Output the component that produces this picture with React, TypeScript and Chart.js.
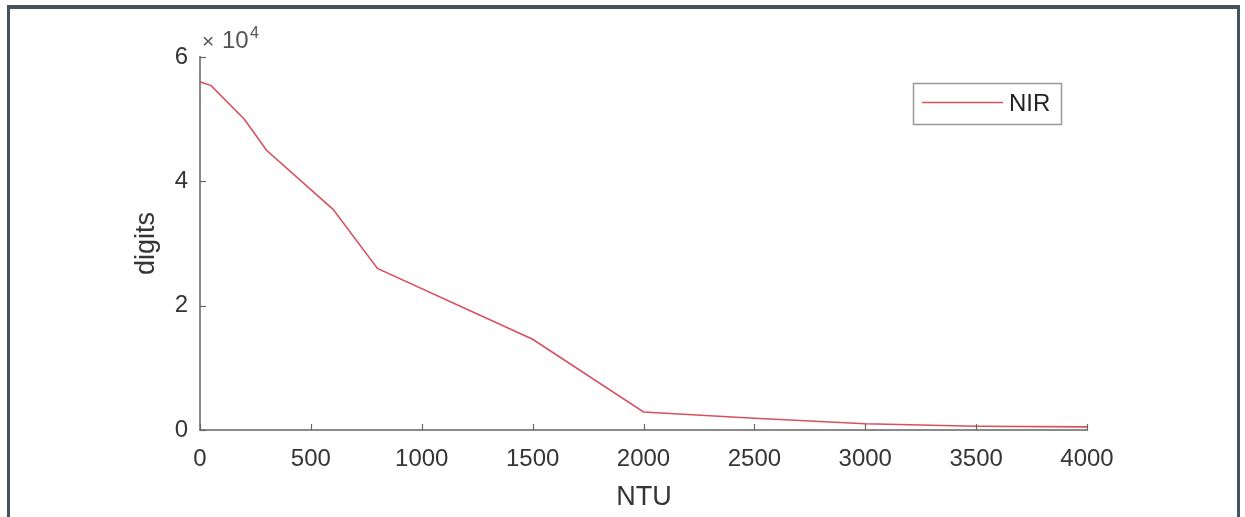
import React, { useEffect, useRef } from "react";
import { Chart, registerables } from "chart.js";

Chart.register(...registerables);

const ntu = [0, 50, 200, 300, 600, 800, 1500, 2000, 2500, 3000, 3500, 4000];
const nir = [56000, 55400, 50000, 45000, 35500, 26000, 14600, 2900, 1900, 1000, 600, 500];
const xTicks = [0, 500, 1000, 1500, 2000, 2500, 3000, 3500, 4000];
const yTicks = [0, 20000, 40000, 60000];
const seriesName = "NIR";
const xTitle = "NTU";
const yTitle = "digits";

const FONT = "'Liberation Sans', Arial, Helvetica, sans-serif";
const TEXT = "#353535";
const AXIS = "#8a8a8a";
const LINE = "#d8505e";

const decor = {
  id: "decor",
  afterDraw(chart: any) {
    const ctx = chart.ctx;
    const xs = chart.scales.x;
    const ys = chart.scales.y;
    const area = chart.chartArea;
    ctx.save();
    // inward tick marks
    ctx.strokeStyle = "#666";
    ctx.lineWidth = 1.2;
    xTicks.forEach((t) => {
      const px = Math.round(xs.getPixelForValue(t)) + 0.5;
      ctx.beginPath();
      ctx.moveTo(px, area.bottom);
      ctx.lineTo(px, area.bottom - 6);
      ctx.stroke();
    });
    yTicks.forEach((t) => {
      const py = Math.round(ys.getPixelForValue(t)) + 0.5;
      ctx.beginPath();
      ctx.moveTo(area.left, py);
      ctx.lineTo(area.left + 6, py);
      ctx.stroke();
    });
    // exponent label
    ctx.fillStyle = "#555";
    ctx.textBaseline = "alphabetic";
    ctx.textAlign = "left";
    ctx.font = `21px ${FONT}`;
    ctx.fillText("\u00d7", area.left + 2, area.top - 9);
    ctx.font = `24px ${FONT}`;
    ctx.fillText("10", area.left + 22, area.top - 9);
    ctx.font = `16px ${FONT}`;
    ctx.fillText("4", area.left + 50, area.top - 19);
    // axis titles
    ctx.fillStyle = TEXT;
    ctx.font = `27px ${FONT}`;
    ctx.textAlign = "center";
    ctx.textBaseline = "middle";
    ctx.fillText(xTitle, (area.left + area.right) / 2 + 0.5, 498);
    ctx.save();
    ctx.translate(147, (area.top + area.bottom) / 2);
    ctx.rotate(-Math.PI / 2);
    ctx.fillText(yTitle, 0, 0);
    ctx.restore();
    // legend
    ctx.fillStyle = "#ffffff";
    ctx.fillRect(913, 83, 148, 41);
    ctx.strokeStyle = "#9a9a9a";
    ctx.lineWidth = 1.5;
    ctx.strokeRect(913.5, 83.5, 148, 41);
    ctx.strokeStyle = LINE;
    ctx.lineWidth = 1.5;
    ctx.beginPath();
    ctx.moveTo(922, 102.5);
    ctx.lineTo(1003, 102.5);
    ctx.stroke();
    ctx.fillStyle = "#222";
    ctx.font = `24px ${FONT}`;
    ctx.textAlign = "left";
    ctx.textBaseline = "middle";
    ctx.fillText(seriesName, 1009, 104);
    ctx.restore();
  },
};

export default function App() {
  const ref = useRef<HTMLCanvasElement | null>(null);
  useEffect(() => {
    if (!ref.current) return;
    const chart = new Chart(ref.current, {
      type: "line",
      data: {
        datasets: [
          {
            label: seriesName,
            data: ntu.map((x, i) => ({ x, y: nir[i] })),
            borderColor: LINE,
            borderWidth: 1.6,
            pointRadius: 0,
            tension: 0,
            fill: false,
          },
        ],
      },
      options: {
        animation: false,
        responsive: false,
        devicePixelRatio: 1,
        layout: { padding: { left: 0, right: 158, top: 57, bottom: 0 } },
        plugins: {
          legend: { display: false },
          tooltip: { enabled: false },
          title: { display: false },
        },
        scales: {
          x: {
            type: "linear",
            min: 0,
            max: 4000,
            afterBuildTicks: (s: any) => {
              s.ticks = xTicks.map((v) => ({ value: v }));
            },
            afterFit: (s: any) => {
              s.height = 87;
            },
            grid: { display: false, drawTicks: false },
            border: { display: true, color: AXIS, width: 2 },
            ticks: {
              padding: 15,
              color: TEXT,
              font: { family: FONT, size: 24 },
              maxRotation: 0,
              autoSkip: false,
              callback: (v: any) => String(v),
            },
          },
          y: {
            type: "linear",
            min: 0,
            max: 60000,
            afterBuildTicks: (s: any) => {
              s.ticks = yTicks.map((v) => ({ value: v }));
            },
            afterFit: (s: any) => {
              s.width = 200;
            },
            grid: { display: false, drawTicks: false },
            border: { display: true, color: AXIS, width: 2 },
            ticks: {
              padding: 12,
              color: TEXT,
              font: { family: FONT, size: 24 },
              autoSkip: false,
              callback: (v: any) => String(Number(v) / 10000),
            },
          },
        },
      },
      plugins: [decor],
    });
    return () => chart.destroy();
  }, []);

  return (
    <div style={{ position: "absolute", left: 0, top: 0, width: 1245, height: 517, background: "#fff", overflow: "hidden" }}>
      <canvas ref={ref} width={1245} height={517} style={{ position: "absolute", left: 0, top: 0, width: 1245, height: 517 }} />
      <div
        style={{
          position: "absolute",
          left: 7,
          top: 5,
          width: 1233,
          height: 540,
          boxSizing: "border-box",
          borderTop: "4px solid #45535f",
          borderLeft: "3px solid #45535f",
          borderRight: "3px solid #45535f",
          pointerEvents: "none",
        }}
      />
    </div>
  );
}
